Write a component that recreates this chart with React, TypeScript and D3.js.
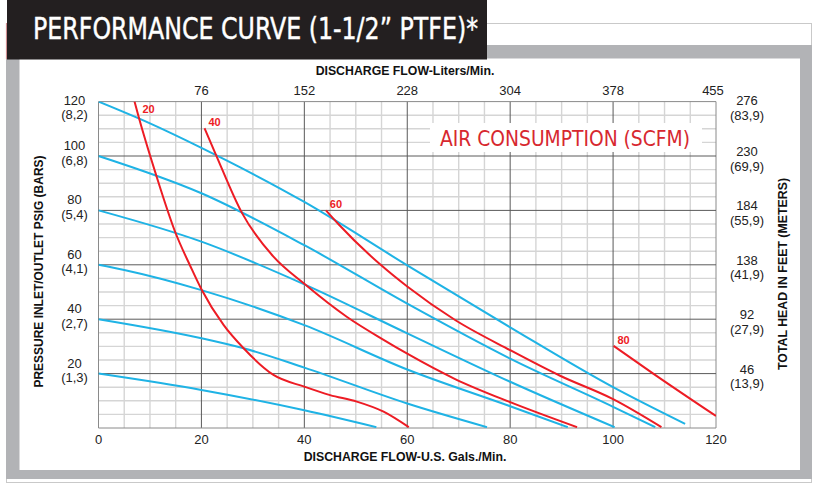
import * as d3 from "d3";

// US gal/min ticks and the matching liters/min labels on top
const flowTicks = [0, 20, 40, 60, 80, 100, 120];
const literFlow = [20, 40, 60, 80, 100, 120];
const literLabels = ["76", "152", "228", "304", "378", "455"];

// psi ticks with bar labels, and head in feet (meters) on the right
const psiTicks = [20, 40, 60, 80, 100, 120];
const barLabels = ["(1,3)", "(2,7)", "(4,1)", "(5,4)", "(6,8)", "(8,2)"];
const headFeet = ["46", "92", "138", "184", "230", "276"];
const headMeters = ["(13,9)", "(27,9)", "(41,9)", "(55,9)", "(69,9)", "(83,9)"];

type Pt = [number, number];

// inlet air pressure curves (gal/min, psi)
const inlet120: Pt[] = [[0, 120], [10, 112], [20, 103], [40, 83.1], [60, 59.8], [80, 37], [100, 15], [114, 1.5]];
const inlet100: Pt[] = [[0, 100], [20, 86.3], [40, 67.2], [60, 45.7], [80, 25.5], [100, 7.8], [108.2, 0.3]];
const inlet80: Pt[] = [[0, 80], [20, 68.5], [40, 52.8], [60, 34.8], [80, 17], [100.3, 0.3]];
const inlet60: Pt[] = [[0, 60], [5, 58.1], [20, 50.7], [40, 37.8], [60, 21.5], [80, 8], [91.2, 0.3]];
const inlet40: Pt[] = [[0, 40], [20, 33], [28.2, 29.3], [40, 22.2], [60, 9], [75.5, 0.3]];
const inlet20: Pt[] = [[0, 20], [20, 14], [40, 6.5], [54, 0.3]];

// air consumption curves (SCFM)
const scfm20: Pt[] = [[7, 120], [7.8, 114.4], [11.1, 93.6], [15, 71.6], [17.9, 59.3], [20, 51], [24.3, 37.9], [28.2, 29.3], [34, 19.5], [40, 15.2], [45, 12.1], [50.2, 9.7], [55.4, 6], [60.3, 0.3]];
const scfm40: Pt[] = [[20.6, 110.2], [22.7, 101], [27.9, 79], [34, 63], [40, 53], [48.3, 40.8], [55.4, 32.4], [60, 27.3], [69.3, 18], [80, 9.5], [93, 0.3]];
const scfm60: Pt[] = [[44.2, 80], [46.6, 75], [55, 59.7], [60, 52], [69.3, 39.7], [80, 28.6], [89.7, 19.2], [100, 10.6], [109.4, 0.3]];
const scfm80: Pt[] = [[100.1, 30.2], [107.8, 20], [120, 4.4]];

const inletCurves = [inlet120, inlet100, inlet80, inlet60, inlet40, inlet20];
const airCurves = [scfm20, scfm40, scfm60, scfm80];
const airLabels = ["20", "40", "60", "80"];

const BLUE = "#1fb3e5";
const RED = "#ed1c24";
const SANS = "'Liberation Sans', Arial, sans-serif";
const NARROW = "'Liberation Sans Narrow', 'DejaVu Sans Condensed', 'Roboto', sans-serif";

export default function App() {
  const x = d3.scaleLinear().domain([0, 120]).range([98.5, 716]);
  const y = d3.scaleLinear().domain([0, 120]).range([428, 101.6]);
  const [x0, x1] = x.range();
  const [y0, y1] = y.range();

  const line = d3
    .line<Pt>()
    .x((d) => x(d[0]))
    .y((d) => y(d[1]))
    .curve(d3.curveMonotoneX);

  const minorX = x.ticks(24).filter((t) => t % 20 !== 0);
  const minorY = y.ticks(24).filter((t) => t % 20 !== 0);

  return (
    <svg width={817} height={487} style={{ position: "absolute", left: 0, top: 0 }}>
      <rect width={817} height={487} fill="#fff" />
      {/* frame */}
      <rect x={6.5} y={23.5} width={805} height={459} fill="none" stroke="#c9c9c9" />
      <rect x={6} y={45} width={806} height={434} fill="#b2b3b6" />
      <rect x={19.5} y={58.5} width={780.5} height={411.5} fill="#fff" />
      <line x1={6.5} x2={6.5} y1={23} y2={59} stroke="#cf8f92" strokeWidth={1.2} />
      <rect x={7} y={0} width={480} height={59.5} fill="#231f20" />
      <text x={33} y={38.5} fontFamily={NARROW} fontSize={31} fill="#fff" stroke="#fff" strokeWidth={0.4} textLength={445} lengthAdjust="spacingAndGlyphs">
        PERFORMANCE CURVE (1-1/2” PTFE)*
      </text>

      <defs>
        <clipPath id="plot">
          <rect x={x0} y={y1} width={x1 - x0} height={y0 - y1} />
        </clipPath>
      </defs>

      {/* grid */}
      {minorX.map((t) => (
        <line key={"mx" + t} x1={x(t)} x2={x(t)} y1={y1} y2={y0} stroke="#d5d5d5" strokeWidth={1.4} />
      ))}
      {minorY.map((t) => (
        <line key={"my" + t} x1={x0} x2={x1} y1={y(t)} y2={y(t)} stroke="#d5d5d5" strokeWidth={1.4} />
      ))}
      {flowTicks.map((t) => (
        <line key={"Mx" + t} x1={x(t)} x2={x(t)} y1={y1} y2={y0} stroke={t === 0 || t === 120 ? "#8a8a8a" : "#5a5a5a"} strokeWidth={1} />
      ))}
      {[0, ...psiTicks].map((t) => (
        <line key={"My" + t} x1={x0} x2={x1} y1={y(t)} y2={y(t)} stroke={t === 0 || t === 120 ? "#8a8a8a" : "#5a5a5a"} strokeWidth={1} />
      ))}

      {/* air consumption label */}
      <rect x={430} y={123} width={272} height={29} fill="#fff" />
      <text x={440} y={145.5} fontFamily={NARROW} fontSize={22} fill="#d7282f" textLength={250} lengthAdjust="spacingAndGlyphs">
        AIR CONSUMPTION (SCFM)
      </text>

      {/* curves */}
      <g clipPath="url(#plot)" fill="none" strokeWidth={2} strokeLinejoin="round">
        {inletCurves.map((c, i) => (
          <path key={"b" + i} d={line(c) ?? ""} stroke={BLUE} />
        ))}
        {airCurves.map((c, i) => (
          <path key={"r" + i} d={line(c) ?? ""} stroke={RED} />
        ))}
      </g>
      {airCurves.map((c, i) => {
        const px = x(c[0][0]);
        const py = y(c[0][1]);
        const atTop = py - y1 < 5;
        return (
          <text
            key={"rl" + i}
            x={px + (atTop ? 14 : 10)}
            y={py + (atTop ? 11 : -2)}
            textAnchor="middle"
            fontFamily={SANS}
            fontWeight="bold"
            fontSize={11}
            fill={RED}
          >
            {airLabels[i]}
          </text>
        );
      })}

      {/* axes labels */}
      <g fontFamily={SANS} fontSize={13} fill="#222" textAnchor="middle">
        {flowTicks.map((t) => (
          <text key={"bx" + t} x={x(t)} y={444}>
            {t}
          </text>
        ))}
        {literFlow.map((t, i) => (
          <text key={"tx" + t} x={x(t) - (t === 120 ? 3 : 0)} y={94.5}>
            {literLabels[i]}
          </text>
        ))}
        {psiTicks.map((t, i) => {
          const b = Math.max(y(t) - 6, 104.5);
          return (
            <g key={"ly" + t}>
              <text x={74.5} y={b}>{t}</text>
              <text x={74.5} y={b + 14.5}>{barLabels[i]}</text>
            </g>
          );
        })}
        {psiTicks.map((t, i) => {
          const b = Math.max(y(t), 105);
          return (
            <g key={"ry" + t}>
              <text x={747} y={b}>{headFeet[i]}</text>
              <text x={747} y={b + 14.5}>{headMeters[i]}</text>
            </g>
          );
        })}
      </g>

      <g fontFamily={SANS} fontWeight="bold" fontSize={12.3} fill="#111" textAnchor="middle">
        <text x={405} y={75}>DISCHARGE FLOW-Liters/Min.</text>
        <text x={405} y={461}>DISCHARGE FLOW-U.S. Gals./Min.</text>
        <text transform="translate(43.3,271.5) rotate(-90)" textLength={232} lengthAdjust="spacingAndGlyphs">
          PRESSURE INLET/OUTLET PSIG (BARS)
        </text>
        <text transform="translate(786.7,274) rotate(-90)" textLength={192} lengthAdjust="spacingAndGlyphs">
          TOTAL HEAD IN FEET (METERS)
        </text>
      </g>
    </svg>
  );
}
